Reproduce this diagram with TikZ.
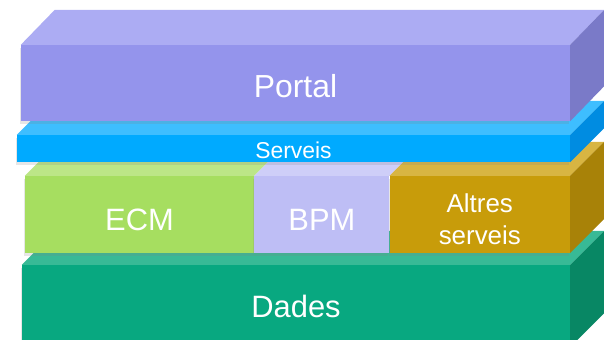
\documentclass[tikz,border=0pt]{standalone}
\usepackage{fontspec}
\setmainfont{Liberation Sans}
\usepackage{tikz}
\usetikzlibrary{positioning,shadows}
\usepackage{xcolor}
\definecolor{ptfront}{RGB}{148,148,236}
\definecolor{pttop}{RGB}{172,172,243}
\definecolor{ptside}{RGB}{122,122,200}
\definecolor{svfront}{RGB}{0,170,255}
\definecolor{svtop}{RGB}{62,190,255}
\definecolor{svside}{RGB}{0,140,225}
\definecolor{ecmfront}{RGB}{166,222,96}
\definecolor{ecmtop}{RGB}{188,230,135}
\definecolor{bpmfront}{RGB}{190,190,245}
\definecolor{bpmtop}{RGB}{206,206,248}
\definecolor{altfront}{RGB}{200,156,10}
\definecolor{alttop}{RGB}{216,181,66}
\definecolor{altside}{RGB}{168,130,8}
\definecolor{ddfront}{RGB}{8,168,128}
\definecolor{ddtop}{RGB}{56,186,150}
\definecolor{ddside}{RGB}{8,135,100}
\tikzstyle{layer} = [rectangle, inner sep=0pt, drop shadow={opacity=0.2, shadow xshift=-1bp, shadow yshift=-3bp}]
\tikzstyle{layertext} = [text=white, align=center, inner sep=0pt]

\begin{document}
\begin{tikzpicture}[x=1bp,y=1bp]
\clip (0,0) rectangle (604,339);
% Dades
\node (dades) [layer, fill=ddfront, minimum width=548bp, minimum height=82bp] at (296,33) {};
\fill[ddtop] (dades.north west) -- ++(34,34) -- ([shift={(34,34)}]dades.north east) -- (dades.north east) -- cycle;
\fill[ddside] (dades.north east) -- ++(34,34) -- ([shift={(34,34)}]dades.south east) -- (dades.south east) -- cycle;
\node at (dades.center) [layertext, font=\fontsize{31}{36}\selectfont] {Dades};

% ECM, BPM, altres serveis
\node (ecm) [layer, fill=ecmfront, minimum width=229bp, minimum height=77bp] at (139.5,124.5) {};
\node (bpm) [layer, fill=bpmfront, minimum width=135bp, minimum height=77bp, right=0pt of ecm] {};
\node (altres) [layer, fill=altfront, minimum width=180bp, minimum height=77bp, right=0pt of bpm] {};
\fill[ecmtop] (ecm.north west) -- ++(34,34) -- ([shift={(34,34)}]ecm.north east) -- (ecm.north east) -- cycle;
\fill[bpmtop] (bpm.north west) -- ++(34,34) -- ([shift={(34,34)}]bpm.north east) -- (bpm.north east) -- cycle;
\fill[alttop] (altres.north west) -- ++(34,34) -- ([shift={(34,34)}]altres.north east) -- (altres.north east) -- cycle;
\fill[altside] (altres.north east) -- ++(34,34) -- ([shift={(34,34)}]altres.south east) -- (altres.south east) -- cycle;
\node at ([yshift=-5]ecm.center) [layertext, font=\fontsize{31}{36}\selectfont] {ECM};
\node at ([yshift=-5]bpm.center) [layertext, font=\fontsize{31}{36}\selectfont] {BPM};
\node at ([yshift=-5]altres.center) [layertext, font=\fontsize{26}{32}\selectfont] {Altres\\serveis};

% Serveis
\node (serveis) [layer, fill=svfront, minimum width=553bp, minimum height=27bp] at (293.5,190.5) {};
\fill[svtop] (serveis.north west) -- ++(34,34) -- ([shift={(34,34)}]serveis.north east) -- (serveis.north east) -- cycle;
\fill[svside] (serveis.north east) -- ++(34,34) -- ([shift={(34,34)}]serveis.south east) -- (serveis.south east) -- cycle;
\node at ([yshift=-1.5]serveis.center) [layertext, font=\fontsize{23}{28}\selectfont] {Serveis};

% Portal
\node (portal) [layer, fill=ptfront, minimum width=549bp, minimum height=76bp] at (295.5,256) {};
\fill[pttop] (portal.north west) -- ++(34,35) -- ([shift={(34,35)}]portal.north east) -- (portal.north east) -- cycle;
\fill[ptside] (portal.north east) -- ++(34,35) -- ([shift={(34,35)}]portal.south east) -- (portal.south east) -- cycle;
\node at ([yshift=-3.5]portal.center) [layertext, font=\fontsize{32}{38}\selectfont] {Portal};
\end{tikzpicture}
\end{document}
